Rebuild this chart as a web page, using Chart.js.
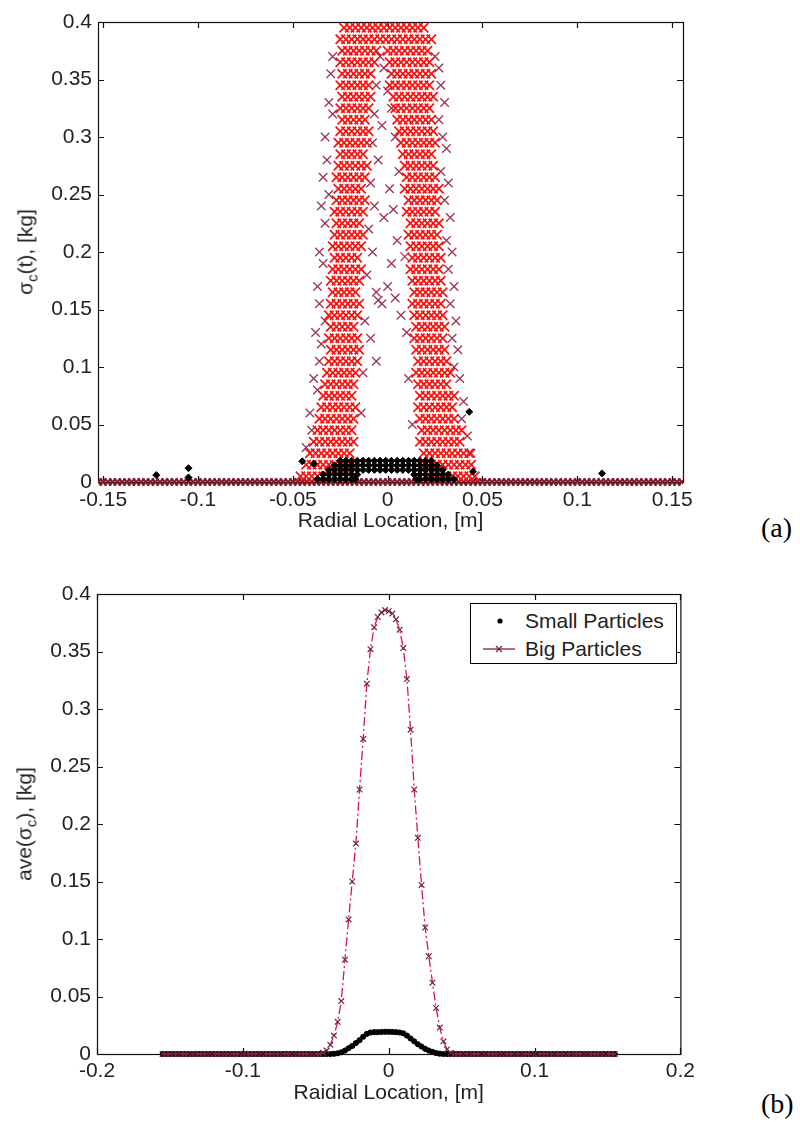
<!DOCTYPE html>
<html>
<head>
<meta charset="utf-8">
<script src="https://cdn.jsdelivr.net/npm/chart.js@4.4.1/dist/chart.umd.min.js"></script>
<style>
  body { margin: 0; width: 800px; height: 1122px; background: #fff; position: relative; overflow: hidden;
         font-family: 'Liberation Sans', Arial, sans-serif; color: #222; }
  canvas { position: absolute; left: 0; }
  #chartA { top: 0; }
  #chartB { top: 570px; }
  .ytitle { position: absolute; font-size: 21px; white-space: nowrap; transform: translate(-50%, -50%) rotate(-90deg); }
  .ytitle sub { font-size: 15px; }
  .panel { position: absolute; left: 761px; font-family: 'Liberation Serif', 'Times New Roman', serif; font-size: 28px; color: #000; }
  #legendB { position: absolute; left: 470px; top: 603px; width: 205px; height: 59px; border: 1px solid #000; background: #fff; font-size: 21px; }
  #legendB span { position: absolute; left: 54px; line-height: 24px; }
  #legendB svg { position: absolute; left: 0; top: 0; }
</style>
</head>
<body>
<canvas id="chartA" width="700" height="560"></canvas>
<canvas id="chartB" width="700" height="550"></canvas>

<div class="ytitle" style="left:27px; top:252px;">σ<sub>c</sub>(t), [kg]</div>
<div class="ytitle" style="left:26px; top:824px;">ave(σ<sub>c</sub>), [kg]</div>
<div class="panel" style="top:512px;">(a)</div>
<div class="panel" style="top:1088px;">(b)</div>

<div id="legendB">
  <svg width="60" height="59">
    <circle cx="29" cy="17" r="2.6" fill="#000"/>
    <line x1="12" y1="45" x2="44" y2="45" stroke="#8b1a3a" stroke-width="1.3"/>
    <path d="M25 42 L31 48 M31 42 L25 48" stroke="#6d2840" stroke-width="1.2"/>
  </svg>
  <span style="top:5px;">Small Particles</span>
  <span style="top:33px;">Big Particles</span>
</div>

<script>
// radial sample locations, mm
const radialMM = [
  -155,-152.5,-150,-147.5,-145,-142.5,-140,-137.5,-135,-132.5,
  -130,-127.5,-125,-122.5,-120,-117.5,-115,-112.5,-110,-107.5,
  -105,-102.5,-100,-97.5,-95,-92.5,-90,-87.5,-85,-82.5,
  -80,-77.5,-75,-72.5,-70,-67.5,-65,-62.5,-60,-57.5,
  -55,-52.5,-50,-47.5,-45,-42.5,-40,-37.5,-35,-32.5,
  -30,-27.5,-25,-22.5,-20,-17.5,-15,-12.5,-10,-7.5,
  -5,-2.5,0,2.5,5,7.5,10,12.5,15,17.5,
  20,22.5,25,27.5,30,32.5,35,37.5,40,42.5,
  45,47.5,50,52.5,55,57.5,60,62.5,65,67.5,
  70,72.5,75,77.5,80,82.5,85,87.5,90,92.5,
  95,97.5,100,102.5,105,107.5,110,112.5,115,117.5,
  120,122.5,125,127.5,130,132.5,135,137.5,140,142.5,
  145,147.5,150,152.5,155
];

// (b) time-averaged mass, kg
const bigAve = [
  0,0,0,0,0,0,0,0,0,0,
  0,0,0,0,0,0,0,0,0,0,
  0,0,0,0,0,0,0,0,0,0,
  0,0,0,0,0,0,0,0,0,0,
  0,0,0,0,0.001,0.003,0.008,0.016,0.028,0.046,
  0.082,0.117,0.150,0.183,0.230,0.274,0.322,0.352,0.371,0.380,
  0.384,0.386,0.385,0.383,0.378,0.369,0.353,0.326,0.282,0.230,
  0.188,0.147,0.110,0.085,0.062,0.040,0.023,0.011,0.004,0.001,
  0,0,0,0,0,0,0,0,0,0,
  0,0,0,0,0,0,0,0,0,0,
  0,0,0,0,0,0,0,0,0,0,
  0,0,0,0,0,0,0,0,0,0,
  0,0,0,0,0
];
const smallAve = [
  0,0,0,0,0,0,0,0,0,0,
  0,0,0,0,0,0,0,0,0,0,
  0,0,0,0,0,0,0,0,0,0,
  0,0,0,0,0,0,0,0,0,0,
  0,0,0,0,0,0,0,0.0002,0.0006,0.0015,
  0.003,0.005,0.007,0.0095,0.012,0.015,0.0175,0.0187,0.019,0.019,
  0.0192,0.0193,0.0193,0.0192,0.019,0.0187,0.018,0.016,0.0135,0.011,
  0.0085,0.0065,0.0045,0.003,0.0018,0.0008,0.0003,0,0,0,
  0,0,0,0,0,0,0,0,0,0,
  0,0,0,0,0,0,0,0,0,0,
  0,0,0,0,0,0,0,0,0,0,
  0,0,0,0,0,0,0,0,0,0,
  0,0,0,0,0
];

// (a) instantaneous mass, big particles: one x list (mm) per y level (kg)
const bigRowsY = [0.395,0.385,0.375,0.365,0.355,0.345,0.335,0.325,0.315,0.305,
  0.295,0.285,0.275,0.265,0.255,0.245,0.235,0.225,0.215,0.205,
  0.195,0.185,0.175,0.165,0.155,0.145,0.135,0.125,0.115,0.105,
  0.095,0.085,0.075,0.065,0.055,0.045,0.035,0.025,0.015,0.005];
const bigRowsX = [
  [-23,-20,-17,-14,-11,-8,-5,-2,1,4,7,10,13,16,19],
  [-25,-22,-19,-16,-13,-10,-7,-4,-1,2,5,8,11,14,17,20,23],
  [-24,-21,-18,-15,-12,-9,-6,0,3,6,9,12,15,18,21],
  [-25,-22,-19,-16,-13,-10,-7,1,4,7,10,13,16,19,22],
  [-24,-21,-18,-15,-12,-9,2,5,8,11,14,17,20,23],
  [-25,-22,-19,-16,-13,-10,1,4,7,10,13,16,19,22],
  [-24,-21,-18,-15,-12,-9,3,6,9,12,15,18,21,24],
  [-25,-22,-19,-16,-13,-10,4,7,10,13,16,19,22],
  [-24,-21,-18,-15,-12,5,8,11,14,17,20,23],
  [-25,-22,-19,-16,-13,-10,6,9,12,15,18,21,24],
  [-26,-23,-20,-17,-14,-11,7,10,13,16,19,22,25],
  [-25,-22,-19,-16,-13,8,11,14,17,20,23],
  [-26,-23,-20,-17,-14,-11,9,12,15,18,21,24],
  [-27,-24,-21,-18,-15,-12,10,13,16,19,22,25],
  [-26,-23,-20,-17,-14,9,12,15,18,21,24,27],
  [-27,-24,-21,-18,-15,-12,11,14,17,20,23,26],
  [-28,-25,-22,-19,-16,-13,10,13,16,19,22,25],
  [-27,-24,-21,-18,-15,12,15,18,21,24,27],
  [-28,-25,-22,-19,-16,-13,11,14,17,20,23,26],
  [-29,-26,-23,-20,-17,-14,12,15,18,21,24,27],
  [-28,-25,-22,-19,-16,13,16,19,22,25,28],
  [-29,-26,-23,-20,-17,-14,12,15,18,21,24,27],
  [-30,-27,-24,-21,-18,-15,13,16,19,22,25,28],
  [-29,-26,-23,-20,-17,14,17,20,23,26,29],
  [-30,-27,-24,-21,-18,-15,13,16,19,22,25,28],
  [-31,-28,-25,-22,-19,-16,14,17,20,23,26,29],
  [-30,-27,-24,-21,-18,15,18,21,24,27,30],
  [-31,-28,-25,-22,-19,-16,14,17,20,23,26,29],
  [-30,-27,-24,-21,-18,-15,15,18,21,24,27,30],
  [-31,-28,-25,-22,-19,-16,16,19,22,25,28,31],
  [-32,-29,-26,-23,-20,-17,15,18,21,24,27,30,33],
  [-33,-30,-27,-24,-21,-18,16,19,22,25,28,31],
  [-34,-31,-28,-25,-22,-19,17,20,23,26,29,32,35],
  [-35,-32,-29,-26,-23,-20,-17,16,19,22,25,28,31,34],
  [-36,-33,-30,-27,-24,-21,-18,17,20,23,26,29,32,35],
  [-37,-34,-31,-28,-25,-22,-19,18,21,24,27,30,33,36,39],
  [-39,-36,-33,-30,-27,-24,-21,-18,17,20,23,26,29,32,35,38],
  [-41,-38,-35,-32,-29,-26,-23,-20,19,22,25,28,31,34,37,40,43],
  [-43,-40,-37,-34,-31,-28,-25,-22,-19,20,23,26,29,32,35,38,41,44],
  [-46,-43,-40,-37,-34,-31,-28,-25,-22,22,25,28,31,34,37,40,43,46]
];
// (a) scattered big-particle samples outside the dense legs
const bigStrayX = [-29,-30,-31,-29,-33,-32,-34,-31,-35,-33,-36,-34,-37,-36,-33,-38,-35,-36,-39,-37,-41,-40,-43,
  25,27,28,30,27,29,31,28,32,30,33,31,34,32,35,33,36,34,37,35,38,40,39,42,44,
  -4,-2,-6,0,-7,2,-3,-8,4,-5,6,-9,1,-7,-2,-10,5,-8,2,-11,-6,4,-3,7,-12,-9,10,-6,-13,11,-14,13,9,3,0,-5];
const bigStrayY = [0.37,0.355,0.33,0.32,0.30,0.28,0.265,0.25,0.24,0.225,0.20,0.19,0.17,0.155,0.14,0.13,0.12,0.105,0.09,0.08,0.06,0.045,0.03,
  0.37,0.36,0.345,0.33,0.315,0.30,0.29,0.27,0.26,0.245,0.23,0.21,0.20,0.185,0.17,0.155,0.14,0.125,0.115,0.10,0.09,0.07,0.055,0.04,0.025,
  0.37,0.36,0.345,0.34,0.32,0.325,0.31,0.295,0.30,0.28,0.27,0.26,0.255,0.24,0.23,0.22,0.21,0.20,0.19,0.18,0.165,0.16,0.155,0.145,0.14,0.125,0.13,0.105,0.095,0.09,0.06,0.05,0.196,0.237,0.17,0.158];

// (a) small particles: dense band rows plus isolated samples
const smallRowsY = [0.0185, 0.0145, 0.0105, 0.0065, 0.0025];
const smallRowsX = [
  [-25,-22,-19,-16,-13,-10,-7,-4,-1,2,5,8,11,14,17,20,23],
  [-28,-25,-22,-19,-16,-13,-10,-7,-4,-1,2,5,8,11,14,17,20,23,26],
  [-31,-28,-25,-22,-19,-16,-13,-10,-7,-4,-1,2,5,8,11,14,17,20,23,26,29],
  [-34,-31,-28,-25,-22,-19,-16,14,17,20,23,26,29,32],
  [-37,-34,-31,-28,-25,-22,-19,-17,15,17,20,23,26,29,32,35]
];
const smallStrayX = [-122,-105,-105,-45,-39,43,45,113];
const smallStrayY = [0.006,0.012,0.004,0.018,0.016,0.061,0.009,0.0075];

const m = mm => mm / 1000;
const rowsToPts = (ys, xs) => ys.flatMap((y, i) => xs[i].map(v => ({x: m(v), y})));
const pairs = (xs, ys) => xs.map((v, i) => ({x: m(v), y: ys[i]}));
const fmt = v => String(Math.round(v * 1000) / 1000);

Chart.defaults.font.family = "'Liberation Sans', Arial, sans-serif";
Chart.defaults.font.size = 21;
Chart.defaults.color = '#222';

// MATLAB-style box with inward ticks on all four sides
const boxTicks = {
  id: 'boxTicks',
  beforeDatasetsDraw(chart) {
    const {ctx, chartArea: a, scales: {x, y}} = chart;
    const len = 6;
    ctx.save();
    ctx.strokeStyle = '#111';
    ctx.lineWidth = 1.2;
    ctx.strokeRect(a.left + 0.5, a.top + 0.5, a.right - a.left, a.bottom - a.top);
    ctx.beginPath();
    x.ticks.forEach(t => {
      const px = Math.round(x.getPixelForValue(t.value)) + 0.5;
      ctx.moveTo(px, a.bottom); ctx.lineTo(px, a.bottom - len);
      ctx.moveTo(px, a.top); ctx.lineTo(px, a.top + len);
    });
    y.ticks.forEach(t => {
      const py = Math.round(y.getPixelForValue(t.value)) + 0.5;
      ctx.moveTo(a.left, py); ctx.lineTo(a.left + len, py);
      ctx.moveTo(a.right, py); ctx.lineTo(a.right - len, py);
    });
    ctx.stroke();
    ctx.restore();
  }
};

function axes(xmin, xmax, xstep, xTitle, xHeight, yWidth, titlePad, tickPad) {
  return {
    x: {
      type: 'linear', min: xmin, max: xmax,
      afterFit: s => { s.height = xHeight; },
      grid: {display: false, drawTicks: false}, border: {display: false},
      ticks: {stepSize: xstep, includeBounds: false, autoSkip: false, maxRotation: 0, padding: tickPad, callback: fmt},
      title: {display: true, text: xTitle, padding: {top: 0, bottom: titlePad}}
    },
    y: {
      type: 'linear', min: 0, max: 0.4,
      afterFit: s => { s.width = yWidth; },
      grid: {display: false, drawTicks: false}, border: {display: false},
      ticks: {stepSize: 0.05, includeBounds: false, autoSkip: false, padding: 6, callback: fmt}
    }
  };
}

new Chart(document.getElementById('chartA'), {
  type: 'scatter',
  data: {
    datasets: [
      {
        label: 'Small Particles',
        data: rowsToPts(smallRowsY, smallRowsX).concat(pairs(smallStrayX, smallStrayY)),
        pointStyle: 'rectRot', pointRadius: 3.5,
        backgroundColor: '#000', borderColor: '#000', borderWidth: 1,
        order: 0, clip: {left: 0, right: 0, top: 0, bottom: 6}
      },
      {
        label: 'Big Particles',
        data: rowsToPts(bigRowsY, bigRowsX),
        pointStyle: 'crossRot', pointRadius: 6.5,
        borderColor: '#ff0d0d', backgroundColor: '#ff0d0d', borderWidth: 1.7,
        order: 1, clip: {left: 0, right: 0, top: 0, bottom: 6}
      },
      {
        label: 'Big Particles (scattered)',
        data: pairs(bigStrayX, bigStrayY),
        pointStyle: 'crossRot', pointRadius: 6,
        borderColor: '#9a3552', backgroundColor: '#9a3552', borderWidth: 1.3,
        order: 2, clip: {left: 0, right: 0, top: 0, bottom: 6}
      },
      {
        label: 'Big Particles (at rest)',
        data: radialMM.map(v => ({x: m(v), y: 0})),
        pointStyle: 'crossRot', pointRadius: 5,
        borderColor: '#7d1d2b', backgroundColor: '#7d1d2b', borderWidth: 2,
        order: 3, clip: {left: 0, right: 0, top: 0, bottom: 6}
      }
    ]
  },
  options: {
    responsive: false,
    animation: false,
    layout: {padding: {top: 22, right: 17, left: 0, bottom: 0}},
    plugins: {legend: {display: false}, tooltip: {enabled: false}},
    scales: axes(-0.1527, 0.1557, 0.05, 'Radial Location, [m]', 78, 98, 26, 6)
  },
  plugins: [boxTicks]
});

new Chart(document.getElementById('chartB'), {
  type: 'scatter',
  data: {
    datasets: [
      {
        label: 'Big Particles',
        data: radialMM.map((v, i) => ({x: m(v), y: bigAve[i]})),
        showLine: true,
        borderColor: '#d9144f', borderWidth: 1.3, borderDash: [9, 3, 2, 3],
        pointStyle: 'crossRot', pointRadius: 4,
        pointBorderColor: '#6d2840', pointBackgroundColor: '#6d2840', pointBorderWidth: 1.2,
        order: 0, clip: 8
      },
      {
        label: 'Small Particles',
        data: radialMM.map((v, i) => ({x: m(v), y: smallAve[i]})),
        pointStyle: 'circle', pointRadius: 2.6,
        backgroundColor: '#000', borderColor: '#000', borderWidth: 1,
        order: 1, clip: 8
      }
    ]
  },
  options: {
    responsive: false,
    animation: false,
    layout: {padding: {top: 24, right: 18, left: 0, bottom: 0}},
    plugins: {legend: {display: false}, tooltip: {enabled: false}},
    scales: axes(-0.2, 0.2, 0.1, 'Raidial Location, [m]', 66, 97, 14, 5)
  },
  plugins: [boxTicks]
});
</script>
</body>
</html>
